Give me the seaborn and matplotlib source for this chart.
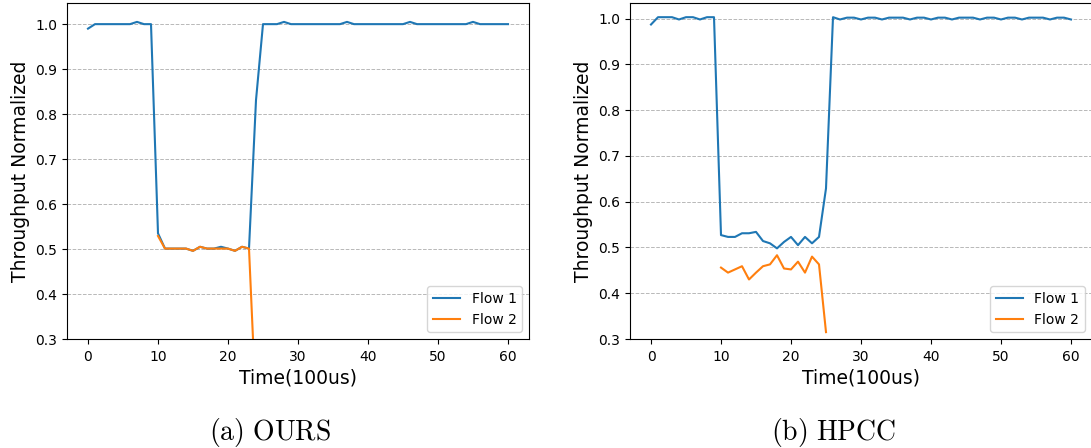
import numpy as np
import pandas as pd
import matplotlib
matplotlib.use("Agg")
import matplotlib.pyplot as plt
import seaborn as sns

plt.rcParams["font.family"] = ["DejaVu Sans"]
plt.rcParams["mathtext.fontset"] = "cm"

# Time axis (units of 100us)
time = np.arange(61)

# OURS: normalized throughput per flow
ours_flow1 = [0.990, 1.0, 1.0, 1.0, 1.0, 1.0, 1.0, 1.005, 1.0, 1.0,
              0.535, 0.501, 0.501, 0.501, 0.501, 0.496, 0.505, 0.501, 0.501, 0.505,
              0.501, 0.496, 0.505, 0.501, 0.831, 1.0, 1.0, 1.0, 1.005, 1.0,
              1.0, 1.0, 1.0, 1.0, 1.0, 1.0, 1.0, 1.005, 1.0, 1.0,
              1.0, 1.0, 1.0, 1.0, 1.0, 1.0, 1.005, 1.0, 1.0, 1.0,
              1.0, 1.0, 1.0, 1.0, 1.0, 1.005, 1.0, 1.0, 1.0, 1.0,
              1.0]
ours_flow2_start = 10
ours_flow2 = [0.529, 0.501, 0.501, 0.501, 0.501, 0.496, 0.505, 0.501, 0.501, 0.501,
              0.501, 0.496, 0.505, 0.501, 0.150]

# HPCC: normalized throughput per flow
hpcc_flow1 = [0.987, 1.003, 1.003, 1.003, 0.998, 1.003, 1.003, 0.998, 1.003, 1.003,
              0.527, 0.523, 0.523, 0.531, 0.531, 0.534, 0.514, 0.509, 0.498, 0.512,
              0.523, 0.505, 0.523, 0.509, 0.523, 0.629, 1.003, 0.998, 1.002, 1.002,
              0.998, 1.002, 1.002, 0.998, 1.002, 1.002, 1.002, 0.998, 1.002, 1.002,
              0.998, 1.002, 1.002, 0.998, 1.002, 1.002, 1.002, 0.998, 1.002, 1.002,
              0.998, 1.002, 1.002, 0.998, 1.002, 1.002, 1.002, 0.998, 1.002, 1.002,
              0.998]
hpcc_flow2_start = 10
hpcc_flow2 = [0.456, 0.445, 0.452, 0.459, 0.430, 0.445, 0.459, 0.463, 0.483, 0.454,
              0.452, 0.469, 0.445, 0.480, 0.463, 0.315]

flow_labels = ["Flow 1", "Flow 2"]
captions = [r"$\mathrm{(a)\ OURS}$", r"$\mathrm{(b)\ HPCC}$"]

colors = ["#1f77b4", "#ff7f0e"]

panels = [
    (ours_flow1, ours_flow2, ours_flow2_start, 1.047),
    (hpcc_flow1, hpcc_flow2, hpcc_flow2_start, 1.034),
]

fig = plt.figure(figsize=(10.91, 4.48), dpi=100)
axes_rects = [
    [67 / 1091, 109 / 448, 462 / 1091, 336 / 448],
    [630 / 1091, 109 / 448, 462 / 1091, 336 / 448],
]
caption_x = [270 / 1091, 834 / 1091]

for rect, (f1, f2, start, ytop), cap, cx in zip(axes_rects, panels, captions, caption_x):
    ax = fig.add_axes(rect)
    df1 = pd.DataFrame({"t": time, "v": f1})
    df2 = pd.DataFrame({"t": time[start:start + len(f2)], "v": f2})
    sns.lineplot(data=df1, x="t", y="v", ax=ax, color=colors[0], lw=1.5,
                 label=flow_labels[0])
    sns.lineplot(data=df2, x="t", y="v", ax=ax, color=colors[1], lw=1.5,
                 label=flow_labels[1])
    ax.set_xlim(-3, 63)
    ax.set_ylim(0.3, ytop)
    ax.set_xticks([0, 10, 20, 30, 40, 50, 60])
    ax.set_yticks([0.3, 0.4, 0.5, 0.6, 0.7, 0.8, 0.9, 1.0])
    ax.tick_params(labelsize=10)
    ax.tick_params(axis="x", pad=4.5)
    ax.set_xlabel("Time(100us)", fontsize=13.5, labelpad=3)
    ax.set_ylabel("Throughput Normalized", fontsize=13.5)
    ax.yaxis.grid(True, linestyle="--", color="#b8b8b8", lw=0.7)
    ax.xaxis.grid(False)
    ax.set_axisbelow(True)
    ax.legend(loc="lower right", fontsize=10)
    fig.text(cx, 1 - 432 / 448, cap, fontsize=20, ha="center", va="center")

fig.savefig("out.png", dpi=100)
